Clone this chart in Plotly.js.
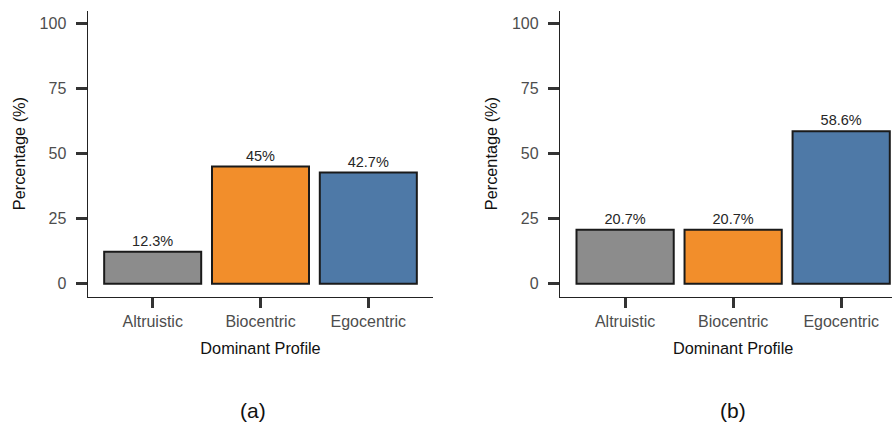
<!DOCTYPE html>
<html>
<head>
<meta charset="utf-8">
<script src="https://cdn.plot.ly/plotly-3.0.1.min.js"></script>
<style>
html,body{margin:0;padding:0;overflow:hidden;background:#fff;}
#chart{width:906px;height:423px;}
</style>
</head>
<body>
<div id="chart"></div>
<script>
const categories = ["Altruistic", "Biocentric", "Egocentric"];
const valuesA = [12.3, 45, 42.7];
const valuesB = [20.7, 20.7, 58.6];
const labelsA = ["12.3%", "45%", "42.7%"];
const labelsB = ["20.7%", "20.7%", "58.6%"];
const barColors = ["#8C8C8C", "#F28E2B", "#4E79A7"];
const yTicks = [0, 25, 50, 75, 100];
const panelLabels = ["(a)", "(b)"];

const W = 906, H = 423;
const FONT = "Liberation Sans, Arial, sans-serif";

function barTrace(vals, labels, xa, ya) {
  return {
    type: "bar",
    x: categories,
    y: vals,
    text: labels,
    textposition: "outside",
    textfont: {family: FONT, size: 14.5, color: "#262626"},
    cliponaxis: false,
    width: 0.9,
    marker: {color: barColors, line: {color: "#1a1a1a", width: 2}},
    xaxis: xa, yaxis: ya,
    hoverinfo: "none",
    showlegend: false
  };
}

function xAxis(d0, d1, anchor) {
  return {
    domain: [d0 / W, d1 / W],
    anchor: anchor,
    type: "category",
    range: [-0.6, 2.6],
    showline: true, linecolor: "#222", linewidth: 1.5,
    showgrid: false, zeroline: false,
    ticks: "outside", ticklen: 10, tickwidth: 3, tickcolor: "#333",
    tickfont: {family: FONT, size: 16, color: "#4D4D4D"},
    title: {text: "Dominant Profile", font: {family: FONT, size: 16.3, color: "#111"}, standoff: 13},
    fixedrange: true, automargin: false
  };
}
function yAxis(anchor) {
  return {
    domain: [(H - 296.7) / H, (H - 10.5) / H],
    anchor: anchor,
    range: [-5, 105],
    tickvals: yTicks,
    showline: true, linecolor: "#222", linewidth: 1.5,
    showgrid: false, zeroline: false,
    ticks: "outside", ticklen: 11, tickwidth: 2.5, tickcolor: "#333",
    ticklabelstandoff: 6,
    tickfont: {family: FONT, size: 16, color: "#4D4D4D"},
    title: {text: "Percentage (%)", font: {family: FONT, size: 16.3, color: "#111"}, standoff: 10},
    fixedrange: true, automargin: false
  };
}

const data = [
  barTrace(valuesA, labelsA, "x", "y"),
  barTrace(valuesB, labelsB, "x2", "y2")
];

const layout = {
  width: W, height: H,
  margin: {l: 0, r: 0, t: 0, b: 0},
  paper_bgcolor: "#fff", plot_bgcolor: "#fff",
  xaxis: xAxis(88, 433, "y"),
  yaxis: yAxis("x"),
  xaxis2: xAxis(560.3, 906, "y2"),
  yaxis2: yAxis("x2"),
  annotations: [
    {text: panelLabels[0], xref: "paper", yref: "paper", x: 253 / W, y: (H - 410) / H,
     xanchor: "center", yanchor: "middle", showarrow: false,
     font: {family: FONT, size: 21, color: "#111"}},
    {text: panelLabels[1], xref: "paper", yref: "paper", x: 733 / W, y: (H - 410) / H,
     xanchor: "center", yanchor: "middle", showarrow: false,
     font: {family: FONT, size: 21, color: "#111"}}
  ]
};

Plotly.newPlot("chart", data, layout, {displayModeBar: false, staticPlot: true});
</script>
</body>
</html>
